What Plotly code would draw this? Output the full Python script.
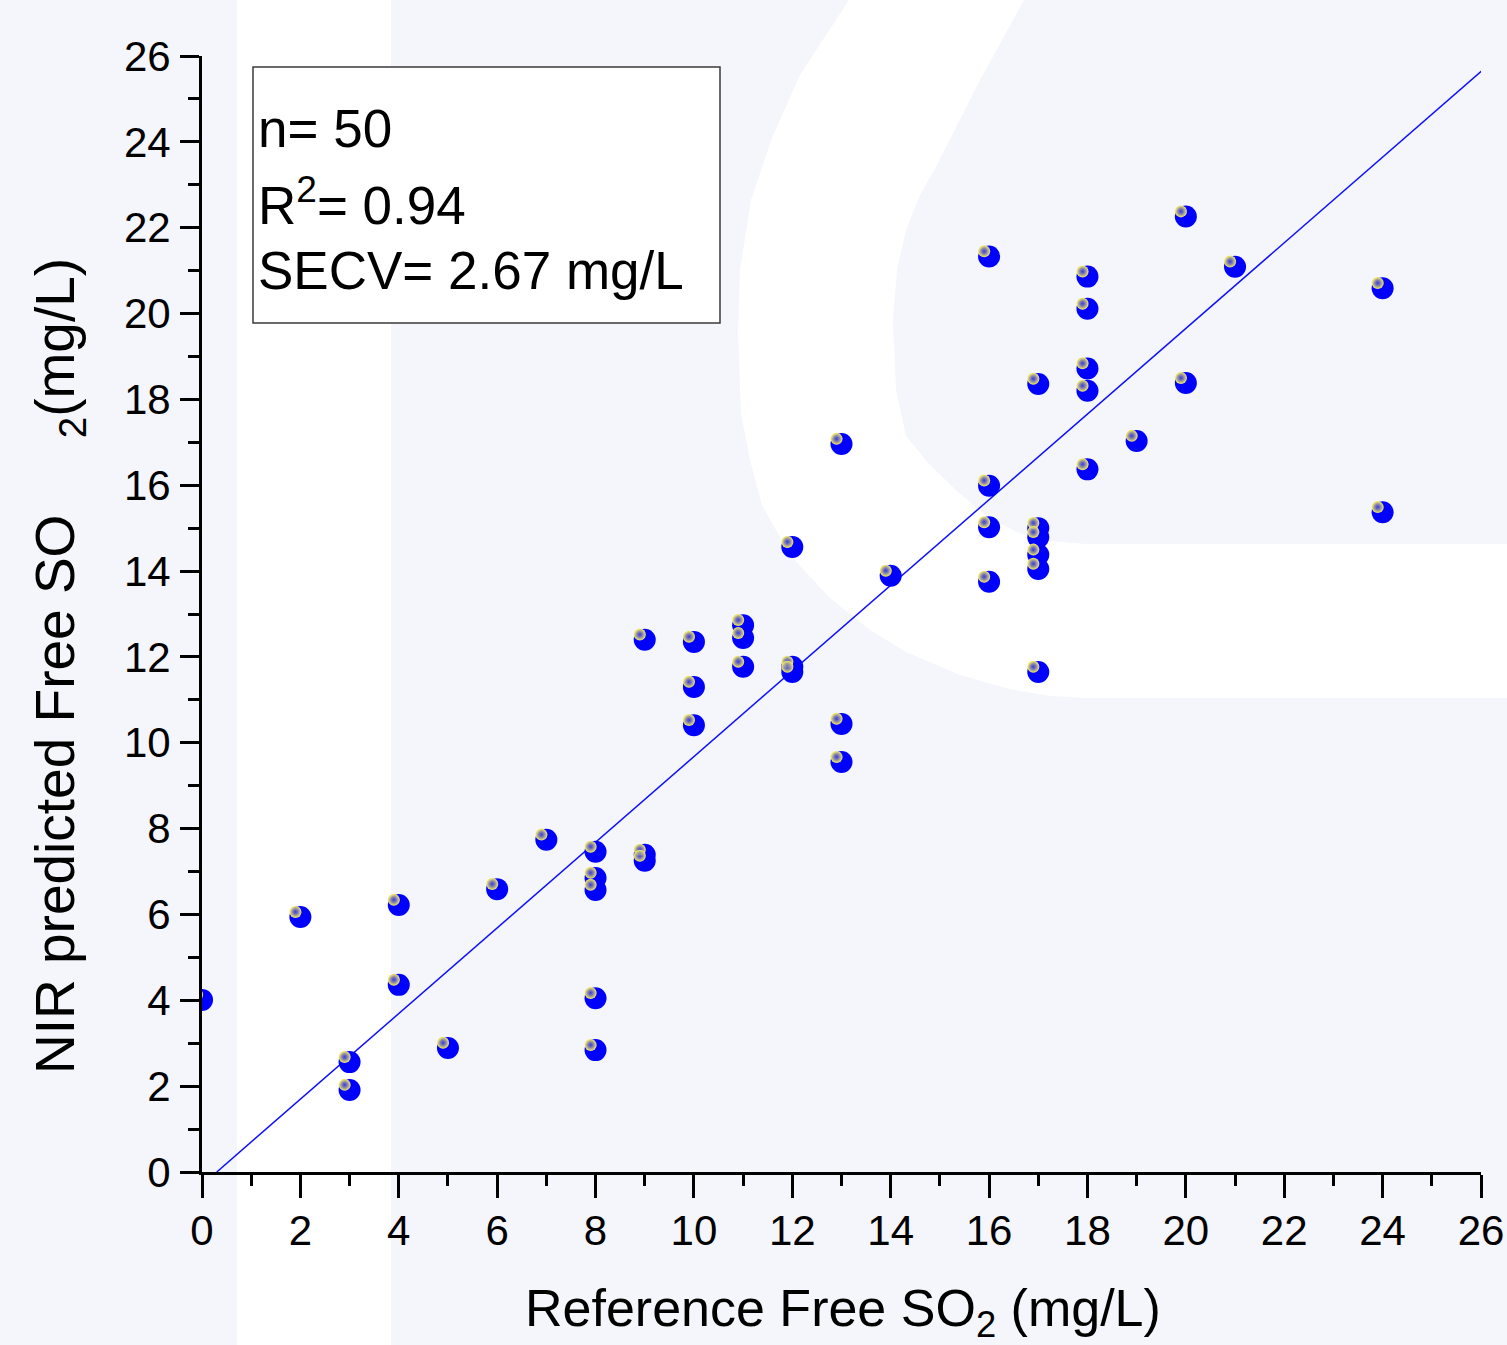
import plotly.graph_objects as go

# ---------------- data ----------------
reference_so2 = [0, 2, 3, 3, 4, 4, 5, 6, 7, 8, 8, 8, 8, 8, 9, 9, 9, 10, 10, 10,
                 11, 11, 11, 12, 12, 12, 13, 13, 13, 14, 16, 16, 16, 16,
                 17, 17, 17, 17, 17, 17, 18, 18, 18, 18, 18, 19, 20, 20, 21, 24, 24]
predicted_so2 = [4.01, 5.94, 2.56, 1.91, 6.22, 4.36, 2.89, 6.59, 7.74, 7.46, 6.85, 6.57,
                 4.05, 2.84, 7.39, 7.25, 12.40, 12.35, 11.30, 10.41, 12.74, 12.44, 11.77,
                 14.56, 11.77, 11.65, 16.96, 10.44, 9.55, 13.89, 21.33, 15.99, 15.02, 13.75,
                 18.36, 15.00, 14.79, 14.38, 14.05, 11.65, 20.86, 20.11, 18.72, 18.20, 16.37,
                 17.03, 22.26, 18.38, 21.09, 20.59, 15.37]
fit_x = [0.3, 26.06]
fit_y = [0.0, 25.70]
tick_vals = list(range(0, 27, 2))
stats_lines = ["n= 50", "R<sup>2</sup>= 0.94", "SECV= 2.67 mg/L"]

# ---------------- layout helpers ----------------
W, H = 1507, 1345
L, R, T, B = 202, 1481, 56, 1172
FONT = "Liberation Sans, Arial, Helvetica, sans-serif"
BG = "#F5F6FB"


def px(x):
    return (x - L) / (R - L)


def py(y):
    return (B - y) / (B - T)


fig = go.Figure()

fig.add_trace(go.Scatter(
    x=fit_x, y=fit_y, mode="lines",
    line=dict(color="#1010ff", width=1.5), showlegend=False, hoverinfo="skip"))

fig.add_trace(go.Scatter(
    x=reference_so2, y=predicted_so2, mode="markers",
    marker=dict(size=22, color="#0000ff", line=dict(width=0)),
    showlegend=False))

# specular highlight on each sphere (offset derived from the data points)
fig.add_trace(go.Scatter(
    x=[v - 0.10 for v in reference_so2], y=[v + 0.12 for v in predicted_so2],
    mode="markers",
    marker=dict(size=12, color="#f8f060",
                gradient=dict(type="radial", color="rgba(80,80,215,0.75)"),
                line=dict(width=0)),
    showlegend=False, hoverinfo="skip"))

# watermark shapes
shapes = []
shapes.append(dict(type="rect", xref="paper", yref="paper",
                   x0=px(237), x1=px(391), y0=py(H + 5), y1=py(-5),
                   fillcolor="white", line=dict(width=0), layer="below"))
outer = [(849, -5), (849, 0), (800, 75), (772, 138), (751, 200), (740, 270), (738, 330),
         (741, 413), (750, 460), (762, 505), (790, 555), (829, 597), (870, 630),
         (906, 652), (960, 675), (1009, 689), (1050, 696), (1086, 698), (1515, 698)]
inner = [(1515, 544), (1086, 544), (1050, 541), (1019, 533), (985, 515), (957, 491),
         (930, 465), (906, 436), (896, 390), (893, 321), (897, 270), (906, 230),
         (920, 195), (937, 165), (980, 80), (1024, 0), (1024, -5)]
pts = outer + inner
path = "M " + " L ".join(f"{px(a):.5f},{py(b):.5f}" for a, b in pts) + " Z"
shapes.append(dict(type="path", xref="paper", yref="paper", path=path,
                   fillcolor="white", line=dict(width=0), layer="below"))
# stats box
shapes.append(dict(type="rect", xref="paper", yref="paper",
                   x0=px(253), x1=px(720), y0=py(323), y1=py(67),
                   fillcolor="white", line=dict(color="#3a3a3a", width=1.5), layer="below"))

annotations = []
for text, yc in zip(stats_lines, [128, 202, 270]):
    annotations.append(dict(text=text, xref="paper", yref="paper", x=px(256), y=py(yc),
                            xanchor="left", yanchor="middle", showarrow=False,
                            font=dict(family=FONT, size=53, color="black")))

annotations.append(dict(text="Reference Free SO<sub>2</sub> (mg/L)", xref="paper", yref="paper",
                        x=px(843), y=py(1312), xanchor="center", yanchor="middle",
                        showarrow=False, font=dict(family=FONT, size=52, color="black")))
annotations.append(dict(text="NIR predicted Free SO\u00a0\u00a0\u00a0\u00a0\u00a0<sub>2</sub>(mg/L)",
                        xref="paper", yref="paper", textangle=-90,
                        x=px(59), y=py(666), xanchor="center", yanchor="middle",
                        showarrow=False, font=dict(family=FONT, size=55, color="black")))

axis_common = dict(
    range=[0, 26], tickmode="array", tickvals=tick_vals,
    showgrid=False, zeroline=False, showline=True, linecolor="black", linewidth=3,
    ticks="outside", tickwidth=3, tickcolor="black",
    tickfont=dict(family=FONT, size=42, color="black"),
    minor=dict(dtick=1, ticks="outside", ticklen=11, tickwidth=3, tickcolor="black",
               showgrid=False),
    mirror=False, fixedrange=True, automargin=False,
)

fig.update_layout(
    width=W, height=H,
    margin=dict(l=L, r=W - R, t=T, b=H - B, pad=0, autoexpand=False),
    paper_bgcolor=BG, plot_bgcolor="rgba(0,0,0,0)",
    xaxis=dict(axis_common, ticklen=23, ticklabelstandoff=-3),
    yaxis=dict(axis_common, ticklen=19, ticklabelstandoff=1),
    shapes=shapes, annotations=annotations,
    showlegend=False,
)

fig.write_html(
    "out.html",
    config={"displayModeBar": False},
    post_script="document.body.style.margin='0';document.body.style.overflow='hidden';",
)
